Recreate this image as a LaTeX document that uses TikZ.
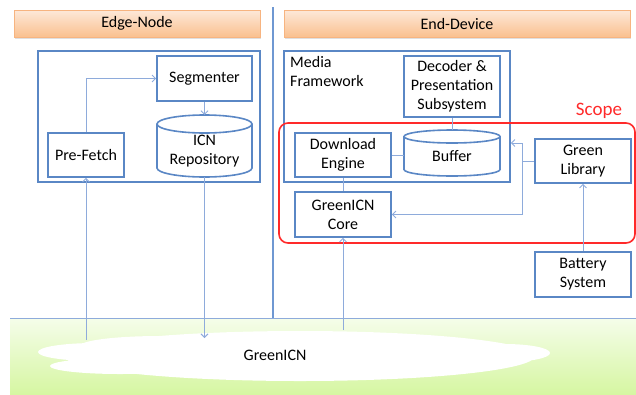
\documentclass[tikz,border=0pt]{standalone}
\usepackage{fontspec}
\setmainfont{Carlito}
\usepackage{tikz}
\usetikzlibrary{arrows.meta,positioning,shapes.geometric,shadows}
\definecolor{boxblue}{HTML}{5A87C5}
\definecolor{linkblue}{HTML}{8EABDB}
\definecolor{rulerblue}{HTML}{6F98D2}
\definecolor{scopered}{HTML}{FF2A2A}
\definecolor{headtop}{HTML}{FDE9D9}
\definecolor{headbot}{HTML}{FAC08F}
\definecolor{headline}{HTML}{F7B480}
\definecolor{grasstop}{HTML}{F5FDEA}
\definecolor{grassbot}{HTML}{D6F6A2}

\begin{document}
\begin{tikzpicture}[x=1pt,y=-1pt,font=\fontsize{16}{19}\selectfont,
 box/.style={draw=boxblue,line width=1.6pt,fill=white,align=center,inner sep=1pt},
 frame/.style={draw=boxblue,line width=1.6pt,inner sep=0pt},
 can/.style={inner sep=0pt,minimum width=95pt},
 canline/.style={draw=boxblue,line width=1.6pt,fill=white},
 head/.style={draw=headline,line width=0.6pt,top color=headtop,bottom color=headbot,
   drop shadow={opacity=0.25,shadow xshift=1pt,shadow yshift=-1.5pt},minimum height=27pt},
 link/.style={draw=linkblue,line width=0.9pt},
 flow/.style={link,-{Straight Barb[length=3.5pt,width=7pt]}}]
\useasboundingbox (0,0) rectangle (636,394);
% ground strip and cloud
\fill[top color=grasstop,bottom color=grassbot] (10,318) rectangle (636,394);
\draw[link] (10,318) -- (636,318);
\fill[white] (300,356) ellipse (235 and 25) (95,352) ellipse (57 and 9)
  (120,366) ellipse (70 and 8) (505,353) ellipse (45 and 9) (160,346) ellipse (80 and 10);
\node (net) at (275,355) {GreenICN};
\coordinate (netA) at (86,340);
\coordinate (netB) at (204.5,338);
\coordinate (netC) at (343,330);
% divider
\draw[rulerblue,line width=2.2pt] (273,7) -- (273,318);
% headers
\node[head,minimum width=246pt] (edgehead) at (137,23.5) {Edge-Node};
\node[head,minimum width=346pt] (endhead) at (457,23.5) {End-Device};
% edge node
\node[frame,minimum width=222pt,minimum height=131pt] (edge) at (149,116.5) {};
\node[box,minimum width=95pt,minimum height=45pt] (segmenter) at (204.5,78.5) {Segmenter};
\node[can,minimum height=62pt] (repo) at (204.5,146) {};
\draw[canline] (157,124) -- (157,168) arc[start angle=180,end angle=0,x radius=47.5,y radius=9]
  -- (252,124) arc[start angle=0,end angle=-180,x radius=47.5,y radius=9] -- cycle;
\draw[canline] (157,124) arc[start angle=180,end angle=0,x radius=47.5,y radius=9];
\node[align=center] (repotxt) at (204.5,151.5) {ICN\\Repository};
\node[box,minimum width=76pt,minimum height=44pt] (prefetch) at (86,155) {Pre-Fetch};
% end device
\node[frame,minimum width=226pt,minimum height=131pt] (media) at (397,116.5) {};
\node[align=left,anchor=north west,inner sep=0pt] (mediatxt) at (290,56) {Media\\Framework};
\node[box,minimum width=96pt,minimum height=61pt] (decoder) at (452,86.5) {Decoder \&\\Presentation\\Subsystem};
\draw[scopered,line width=1.6pt,rounded corners=9pt] (279,123) rectangle (635,243);
\node[scopered,font=\fontsize{19}{22}\selectfont] (scope) at (599,111) {Scope};
\node[box,minimum width=96pt,minimum height=44pt] (download) at (343,155) {Download\\Engine};
\node[can,minimum width=96pt,minimum height=46pt] (buffer) at (452,153) {};
\draw[canline] (404,136.5) -- (404,169.5) arc[start angle=180,end angle=0,x radius=48,y radius=6.5]
  -- (500,136.5) arc[start angle=0,end angle=-180,x radius=48,y radius=6.5] -- cycle;
\draw[canline] (404,136.5) arc[start angle=180,end angle=0,x radius=48,y radius=6.5];
\node (buffertxt) at (452,156) {Buffer};
\node[box,minimum width=96pt,minimum height=45pt] (core) at (343,214.5) {GreenICN\\Core};
\node[box,minimum width=96pt,minimum height=44pt] (greenlib) at (583,161) {Green\\Library};
\node[box,minimum width=96pt,minimum height=45pt] (battery) at (583,274.5) {Battery\\System};
\coordinate (jtop) at (522,143);
% connectors
\draw[flow] (prefetch.north) |- (segmenter.west);
\draw[flow] (segmenter.south) -- (repo.north);
\draw[flow] (repo.south) -- (netB);
\draw[flow] (netA) -- (prefetch.south);
\draw[flow] (netC) -- (core.south);
\draw[link] (decoder.south) -- (buffer.north);
\draw[link] (download.east) -- (download.east -| buffer.west);
\draw[link] (download.south) -- (core.north);
\draw[link] (greenlib.west) -- (greenlib.west -| jtop);
\draw[flow] (jtop) -- (jtop -| media.east);
\draw[flow] (jtop) |- (core.east);
\draw[flow] (battery.north) -- (greenlib.south);
\end{tikzpicture}
\end{document}
